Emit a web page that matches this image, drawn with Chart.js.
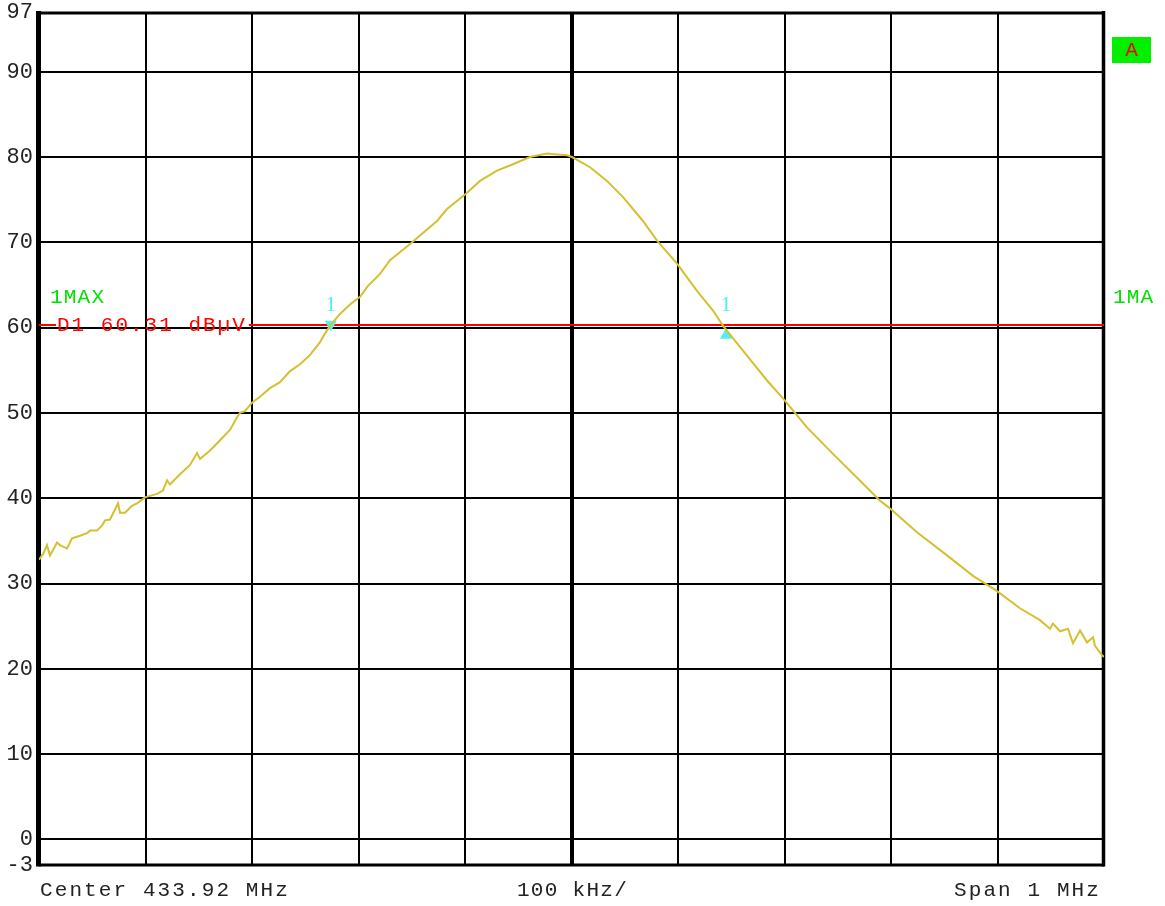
<!DOCTYPE html>
<html>
<head>
<meta charset="utf-8">
<title>Spectrum 433.92 MHz</title>
<script src="https://cdn.jsdelivr.net/npm/chart.js@4.4.1/dist/chart.umd.min.js"></script>
<style>
  body { margin: 0; background: #fff; }
  #spectrum { display: block; }
</style>
</head>
<body>
<canvas id="spectrum" width="1165" height="906"></canvas>
<script>
// trace 1 (max hold), frequency as offset from center in kHz
var freqOffsetKhz = [
	-500, -496, -492.5, -489.7, -486.9, -483.1, -480.3, -473.7, -469, -461.5,
	-454.9, -452.1, -445.5, -440.8, -438, -433.3, -430.5, -425.8, -423.9, -419.2,
	-412.7, -408, -400.5, -389.2, -383.6, -379.8, -377, -367.6, -358.2, -351.6,
	-348.8, -339.4, -330, -320.7, -314.1, -311.3, -306.6, -300, -292.5, -283.1,
	-273.7, -264.3, -254.9, -245.5, -236.1, -231.5, -226.8, -217.4, -208, -198.6,
	-191.1, -179.8, -170.4, -151.6, -126.3, -116.9, -99.1, -85.9, -70, -57.8,
	-39, -23, -13.6, -4.2, 0.5, 17.4, 33.3, 48.4, 67.1, 80.3,
	99.1, 117.8, 132.9, 142.3, 161, 183.6, 198.6, 221.1, 245.5, 268.1,
	289.7, 298.1, 324.4, 352.6, 377, 398.6, 421.1, 439.9, 449.3, 452.1,
	458.7, 466.2, 470.9, 477.5, 484, 489.7, 491.5, 498.1, 500
];
var levelDbuv = [
	32.8, 33.5, 34.5, 33.3, 33.9, 34.8, 34.5, 34.1, 35.3, 35.6,
	35.9, 36.2, 36.2, 36.8, 37.4, 37.5, 38.2, 39.4, 38.3, 38.3,
	39.1, 39.4, 40.1, 40.5, 40.9, 42.1, 41.6, 42.8, 43.9, 45.3,
	44.6, 45.6, 46.8, 48.0, 49.5, 50.0, 50.2, 51.2, 51.9, 52.9,
	53.6, 54.9, 55.7, 56.8, 58.3, 59.3, 60.2, 61.6, 62.7, 63.6,
	64.9, 66.3, 67.9, 69.8, 72.5, 73.9, 75.7, 77.2, 78.4, 79.0,
	80.0, 80.4, 80.3, 80.2, 80.0, 78.8, 77.2, 75.3, 72.5, 70.2,
	67.5, 64.3, 62.0, 60.2, 57.3, 53.8, 51.7, 48.3, 45.2, 42.4,
	39.7, 38.9, 36.0, 33.3, 30.9, 29.2, 27.1, 25.7, 24.7, 25.3,
	24.4, 24.7, 23.0, 24.5, 23.1, 23.7, 22.7, 21.6, 21.4
];

var yTickValues = [-3, 0, 10, 20, 30, 40, 50, 60, 70, 80, 90, 97];
var xMinKhz = -500, xMaxKhz = 500, xStepKhz = 100;

var markerFreqKhz = [-226, 145];
var markerLevelDbuv = [60.4, 59.1];
var markerDirection = ['down', 'up'];
var displayLineDbuv = 60.31;

var centerLabel = "Center 433.92 MHz";
var perDivLabel = "100 kHz/";
var spanLabel = "Span 1 MHz";
var traceLabel = "1MAX";
var traceLabelRight = "1MA";
var displayLineLabel = "D1 60.31 dB\u00b5V";
var markerLabel = "1";
var screenLabel = "A";

var traceColor = 'rgb(212,192,48)';
var markerColor = 'rgb(80,240,240)';
var monoFont = '"Liberation Mono", "DejaVu Sans Mono", monospace';

function tracePoints() {
	return freqOffsetKhz.map(function(f, i) {
		return { x : f, y : levelDbuv[i] };
	});
}

function markerPoints() {
	return markerFreqKhz.map(function(f, i) {
		return { x : f, y : markerLevelDbuv[i] };
	});
}

function spacedText(ctx, text, x, y, spacing) {
	ctx.letterSpacing = spacing + 'px';
	ctx.fillText(text, x, y);
	ctx.letterSpacing = '0px';
}

// frame, display line and the instrument texts
var screenDecor = {
	id : 'screenDecor',
	beforeDatasetsDraw : function(chart) {
		var ctx = chart.ctx, a = chart.chartArea;
		var yScale = chart.scales.y;
		ctx.save();
		ctx.strokeStyle = '#000';
		ctx.lineWidth = 5;
		ctx.beginPath();
		ctx.moveTo(a.left - 0.5, a.top - 1);
		ctx.lineTo(a.left - 0.5, a.bottom + 1.5);
		ctx.stroke();
		ctx.lineWidth = 3.5;
		ctx.beginPath();
		ctx.moveTo(a.right - 0.5, a.top - 1);
		ctx.lineTo(a.right - 0.5, a.bottom + 1.5);
		ctx.stroke();
		ctx.lineWidth = 3;
		ctx.beginPath();
		ctx.moveTo(a.left, a.top + 1);
		ctx.lineTo(a.right, a.top + 1);
		ctx.moveTo(a.left, a.bottom);
		ctx.lineTo(a.right, a.bottom);
		ctx.stroke();

		// display line D1, broken where its label sits
		var yLine = yScale.getPixelForValue(displayLineDbuv);
		ctx.font = '21px ' + monoFont;
		ctx.letterSpacing = '2px';
		var textW = ctx.measureText(displayLineLabel).width;
		ctx.letterSpacing = '0px';
		var textX = a.left + 18;
		ctx.strokeStyle = 'rgb(255,0,0)';
		ctx.lineWidth = 2;
		ctx.beginPath();
		ctx.moveTo(a.left, yLine);
		ctx.lineTo(textX - 1, yLine);
		ctx.moveTo(textX + textW + 2, yLine);
		ctx.lineTo(a.right, yLine);
		ctx.stroke();
		ctx.restore();
	},
	afterDatasetsDraw : function(chart) {
		var ctx = chart.ctx, a = chart.chartArea;
		var xScale = chart.scales.x, yScale = chart.scales.y;
		var yLine = yScale.getPixelForValue(displayLineDbuv);
		ctx.save();
		ctx.textBaseline = 'middle';

		ctx.fillStyle = 'rgb(255,0,0)';
		ctx.font = '21px ' + monoFont;
		ctx.textAlign = 'left';
		spacedText(ctx, displayLineLabel, a.left + 18, yLine, 2);

		ctx.fillStyle = 'rgb(0,225,0)';
		ctx.font = '21px ' + monoFont;
		spacedText(ctx, traceLabel, a.left + 11, yLine - 28, 1.2);
		spacedText(ctx, traceLabelRight, a.right + 9, yLine - 28, 1.2);

		// marker numbers
		ctx.fillStyle = markerColor;
		ctx.font = '22px "Liberation Serif", serif';
		ctx.textAlign = 'center';
		markerFreqKhz.forEach(function(f) {
			ctx.fillText(markerLabel, xScale.getPixelForValue(f), yLine - 20);
		});

		// screen A badge
		ctx.fillStyle = 'rgb(0,240,0)';
		ctx.fillRect(a.right + 8, 37, 39, 26);
		ctx.fillStyle = 'rgb(240,0,0)';
		ctx.font = '21px ' + monoFont;
		ctx.fillText(screenLabel, a.right + 27.5, 50.5);

		// bottom annotation
		ctx.fillStyle = '#222';
		ctx.font = '21px ' + monoFont;
		ctx.textAlign = 'left';
		spacedText(ctx, centerLabel, a.left + 1, 890, 2.1);
		ctx.textAlign = 'center';
		spacedText(ctx, perDivLabel, (a.left + a.right) / 2 + 1, 890, 1.3);
		ctx.textAlign = 'right';
		spacedText(ctx, spanLabel, a.right - 3, 890, 2.1);
		ctx.restore();
	}
};

var chart = new Chart(document.getElementById('spectrum'), {
	type : 'line',
	data : {
		datasets : [ {
			label : traceLabel,
			data : tracePoints(),
			borderColor : traceColor,
			borderWidth : 2,
			pointRadius : 0,
			tension : 0,
			fill : false
		}, {
			type : 'scatter',
			label : 'markers',
			data : markerPoints(),
			pointStyle : 'triangle',
			pointRadius : 7,
			pointBackgroundColor : markerColor,
			pointBorderColor : markerColor,
			pointBorderWidth : 0,
			pointRotation : function(c) {
				return markerDirection[c.dataIndex] === 'down' ? 180 : 0;
			}
		} ]
	},
	options : {
		responsive : false,
		animation : false,
		events : [],
		layout : {
			padding : { top : 12, right : 61, left : 0, bottom : 0 }
		},
		plugins : {
			legend : { display : false },
			tooltip : { enabled : false }
		},
		scales : {
			x : {
				type : 'linear',
				min : xMinKhz,
				max : xMaxKhz,
				ticks : { display : false, stepSize : xStepKhz },
				border : { display : false },
				grid : {
					drawTicks : false,
					color : function(c) {
						var v = c.tick.value;
						return (v === xMinKhz || v === xMaxKhz) ? 'rgba(0,0,0,0)' : '#000';
					},
					lineWidth : function(c) {
						return c.tick.value === 0 ? 4 : 2;
					}
				},
				afterFit : function(scale) {
					scale.height = 41;
				}
			},
			y : {
				min : -3,
				max : 97,
				border : { display : false },
				afterBuildTicks : function(scale) {
					scale.ticks = yTickValues.map(function(v) {
						return { value : v };
					});
				},
				ticks : {
					padding : 6,
					color : '#222',
					font : { family : monoFont, size : 22 },
					callback : function(v) {
						return String(v);
					}
				},
				grid : {
					drawTicks : false,
					color : function(c) {
						var v = c.tick.value;
						return (v === -3 || v === 97) ? 'rgba(0,0,0,0)' : '#000';
					},
					lineWidth : 2
				},
				afterFit : function(scale) {
					// labels may overhang the plot; keep the plot edges fixed
					scale.width = 39;
					scale.paddingTop = 0;
					scale.paddingBottom = 0;
				}
			}
		}
	},
	plugins : [ screenDecor ]
});
</script>
</body>
</html>
